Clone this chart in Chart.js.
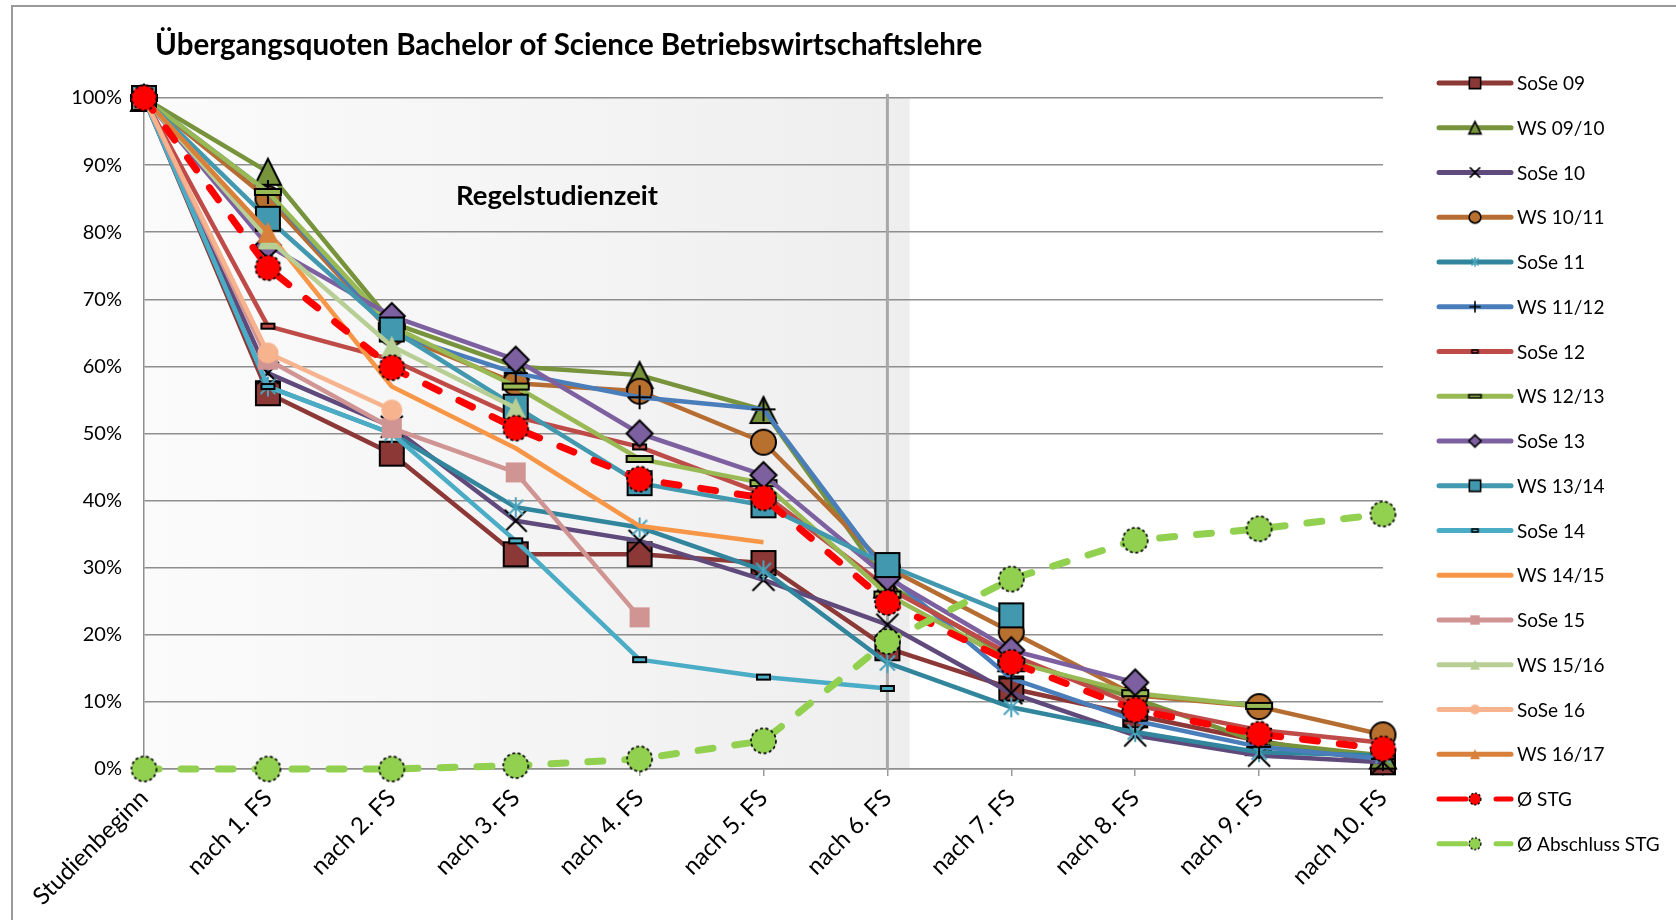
<!DOCTYPE html>
<html><head><meta charset="utf-8">
<script src="https://cdn.jsdelivr.net/npm/chart.js@4/dist/chart.umd.min.js"></script>
<style>html,body{margin:0;padding:0;background:#fff}#wrap{width:1676px;height:920px;position:relative}canvas{display:block}</style>
</head><body><div id="wrap"><canvas id="c" width="1676" height="920"></canvas></div>
<script>
// ---------- DATA ----------
const chartTitle = 'Übergangsquoten Bachelor of Science Betriebswirtschaftslehre';
const regelLabel = 'Regelstudienzeit';
const categories = ['Studienbeginn','nach 1. FS','nach 2. FS','nach 3. FS','nach 4. FS','nach 5. FS','nach 6. FS','nach 7. FS','nach 8. FS','nach 9. FS','nach 10. FS'];
const yTickValues = [0,10,20,30,40,50,60,70,80,90,100];
const seriesNames = ['SoSe 09','WS 09/10','SoSe 10','WS 10/11','SoSe 11','WS 11/12','SoSe 12','WS 12/13','SoSe 13','WS 13/14','SoSe 14','WS 14/15','SoSe 15','WS 15/16','SoSe 16','WS 16/17','Ø STG','Ø Abschluss STG'];
const sose09   = [100, 56, 47, 32, 32, 30.7, 18, 12, 8, 4.2, 1];
const ws0910   = [100, 89, 66.5, 60, 58.7, 53.5, 27.5, 16.5, 10.5, 4, 2];
const sose10   = [100, 59, 51, 37, 34, 28.2, 21.5, 11.3, 5, 2, 1];
const ws1011   = [100, 85, 65, 57.5, 56.3, 48.7, 30, 20.4, 11, 9.3, 5.1];
const sose11   = [100, 57, 50, 39, 36, 29.6, 15.8, 9.2, 5.5, 2.5, 2];
const ws1112   = [100, 86, 65, 59, 55.4, 53.6, 29, 13.5, 7.2, 3.3, 1.5];
const sose12   = [100, 66, 61, 52.5, 48, 41, 27, 17, 9.5, 5.8, 3.9];
const ws1213   = [100, 86, 66, 57, 46.2, 42.6, 26, 16, 11.3, 9.4, null];
const sose13   = [100, 78, 67.5, 61, 50, 43.8, 28.5, 17.7, 12.9, null, null];
const ws1314   = [100, 82, 65.5, 54, 42.6, 39.3, 30.4, 22.9, null, null, null];
const sose14   = [100, 57, 50, 34, 16.3, 13.7, 12, null, null, null, null];
const ws1415   = [100, 80, 57, 47.8, 36.2, 33.8, null, null, null, null, null];
const sose15   = [100, 61, 50.8, 44.2, 22.6, null, null, null, null, null, null];
const ws1516   = [100, 79, 63, 53.8, null, null, null, null, null, null, null];
const sose16   = [100, 62, 53.5, null, null, null, null, null, null, null, null];
const ws1617   = [100, 80, null, null, null, null, null, null, null, null, null];
const avgStg   = [100, 74.7, 59.8, 50.8, 43.2, 40.4, 24.8, 15.9, 8.8, 5.2, 3.0];
const avgAbschluss = [0, 0, 0, 0.5, 1.5, 4.2, 19, 28.3, 34.1, 35.8, 38];
const seriesValues = [sose09, ws0910, sose10, ws1011, sose11, ws1112, sose12, ws1213, sose13, ws1314, sose14, ws1415, sose15, ws1516, sose16, ws1617, avgStg, avgAbschluss];

// ---------- STYLES ----------
const styles = [
  {color:'#8C3836', m:{shape:'rect', size:24, fill:'#8C3836', lw:2}},
  {color:'#77933C', m:{shape:'tri', size:26, fill:'#77933C', lw:2}},
  {color:'#5F4A7B', m:{shape:'x', size:22, lw:2}},
  {color:'#B66D31', m:{shape:'circle', size:25, fill:'#B8702F', lw:2}},
  {color:'#31859C', m:{shape:'star', size:20, lw:2, stroke:'#4AA3BD'}},
  {color:'#4A7EBB', m:{shape:'plus', size:24, lw:2}},
  {color:'#BE4B48', m:{shape:'bar', w:13, h:5, fill:'#BE4B48', lw:2}},
  {color:'#98B954', m:{shape:'bar', w:26, h:6, fill:'#98B954', lw:2}},
  {color:'#7D60A0', m:{shape:'diamond', size:26, fill:'#7D60A0', lw:2}},
  {color:'#4198AF', m:{shape:'rect', size:24, fill:'#4198AF', lw:2}},
  {color:'#4BACC6', m:{shape:'bar', w:13, h:5, fill:'#4BACC6', lw:2}},
  {color:'#F79646', m:null},
  {color:'#D09493', m:{shape:'rect', size:20, fill:'#D09493', lw:0}},
  {color:'#B7CF95', m:{shape:'tri', size:21, fill:'#B7CF95', lw:0}},
  {color:'#F7B38E', m:{shape:'circle', size:21, fill:'#F7B38E', lw:0}},
  {color:'#D9803A', m:{shape:'tri', size:21, fill:'#D9803A', lw:0}},
  {color:'#FF0000', dash:true, m:{shape:'circle', size:25, fill:'#FF0000', lw:1.6, dash:[3,2.5]}},
  {color:'#92D050', dash:true, m:{shape:'circle', size:25, fill:'#92D050', lw:1.6, dash:[3,2.5]}}
];

function makeMarker(o, k) {
  k = k || 1;
  const lw = o.lw || 0;
  const sz = (o.size || 0) * k, bw = (o.w || 0) * k, bh = Math.max((o.h || 0) * k, 3);
  const boxW = o.shape === 'bar' ? bw : sz, boxH = o.shape === 'bar' ? bh : sz;
  const pad = Math.ceil(lw) + 2;
  const c = document.createElement('canvas');
  c.width = Math.ceil(boxW + pad * 2); c.height = Math.ceil(boxH + pad * 2);
  const g = c.getContext('2d');
  const cx = c.width / 2, cy = c.height / 2, r = sz / 2;
  g.lineWidth = lw * (k < 1 ? 0.8 : 1); g.strokeStyle = o.stroke || '#000';
  g.lineJoin = 'miter';
  if (o.dash) g.setLineDash(o.dash.map(d => d * (k < 1 ? 0.7 : 1)));
  g.beginPath();
  switch (o.shape) {
    case 'rect': g.rect(cx - r, cy - r, sz, sz); break;
    case 'bar': g.rect(cx - bw / 2, cy - bh / 2, bw, bh); break;
    case 'circle': g.arc(cx, cy, r, 0, Math.PI * 2); break;
    case 'tri': g.moveTo(cx, cy - r); g.lineTo(cx + r, cy + r); g.lineTo(cx - r, cy + r); g.closePath(); break;
    case 'diamond': g.moveTo(cx, cy - r); g.lineTo(cx + r, cy); g.lineTo(cx, cy + r); g.lineTo(cx - r, cy); g.closePath(); break;
    case 'x': g.moveTo(cx - r, cy - r); g.lineTo(cx + r, cy + r); g.moveTo(cx + r, cy - r); g.lineTo(cx - r, cy + r); break;
    case 'plus': g.moveTo(cx - r, cy); g.lineTo(cx + r, cy); g.moveTo(cx, cy - r); g.lineTo(cx, cy + r); break;
    case 'star': { const a = r * 0.75; g.moveTo(cx - a, cy - a); g.lineTo(cx + a, cy + a); g.moveTo(cx + a, cy - a); g.lineTo(cx - a, cy + a); g.moveTo(cx, cy - r); g.lineTo(cx, cy + r); break; }
  }
  if (o.fill) { g.fillStyle = o.fill; g.fill(); }
  if (lw) g.stroke();
  return c;
}

const N = seriesNames.length;
const datasets = seriesNames.map((name, i) => {
  const st = styles[i];
  return {
    label: name,
    data: seriesValues[i],
    borderColor: st.color,
    backgroundColor: st.color,
    borderWidth: st.dash ? 7 : 4.5,
    borderDash: st.dash ? [15, 22] : [],
    borderCapStyle: st.dash ? 'round' : 'butt',
    borderJoinStyle: 'round',
    pointStyle: st.m ? makeMarker(st.m) : false,
    pointRadius: st.m ? 6 : 0,
    pointHoverRadius: st.m ? 6 : 0,
    fill: false, tension: 0, clip: false,
    order: N - i,
    legendMarker: st.m ? makeMarker(st.m, 0.47) : null,
    legendDash: !!st.dash
  };
});

const decor = {
  id: 'decor',
  beforeDraw(chart) {
    const {ctx, chartArea: a, scales: {x}} = chart;
    ctx.save();
    ctx.fillStyle = '#fff'; ctx.fillRect(0, 0, chart.width, chart.height);
    ctx.strokeStyle = '#9a9a9a'; ctx.lineWidth = 2;
    ctx.strokeRect(12, 6, 3000, 3000);
    const x6 = x.getPixelForValue(6);
    const right = x6 + (x.getPixelForValue(1) - x.getPixelForValue(0)) * 0.18;
    const grd = ctx.createLinearGradient(a.left, 0, right, 0);
    grd.addColorStop(0, '#fbfbfb'); grd.addColorStop(1, '#eeeeee');
    ctx.fillStyle = grd; ctx.fillRect(a.left, a.top, right - a.left, a.bottom - a.top);
    ctx.restore();
  },
  beforeDatasetsDraw(chart) {
    const {ctx, chartArea: a, scales: {x}} = chart;
    ctx.save();
    const x6 = x.getPixelForValue(6);
    ctx.strokeStyle = '#a8a8a8'; ctx.lineWidth = 3;
    ctx.beginPath(); ctx.moveTo(x6, a.top - 4); ctx.lineTo(x6, a.bottom); ctx.stroke();
    ctx.fillStyle = '#000'; ctx.font = 'bold 27.5px Lato'; ctx.textAlign = 'center'; ctx.textBaseline = 'middle';
    ctx.fillText(regelLabel, 557, 196);
    ctx.restore();
  },
  afterDraw(chart) {
    const {ctx} = chart;
    ctx.save();
    ctx.fillStyle = '#000'; ctx.font = 'bold 29.5px Lato'; ctx.textAlign = 'left'; ctx.textBaseline = 'middle';
    ctx.fillText(chartTitle, 155, 45);
    // legend
    const x0 = 1439, x1 = 1511, mx = 1475, tx = 1517, y0 = 83, step = 44.75;
    chart.data.datasets.forEach((ds, i) => {
      const y = y0 + i * step;
      ctx.strokeStyle = ds.borderColor; ctx.lineWidth = 5; ctx.lineCap = 'round';
      ctx.beginPath();
      if (ds.legendDash) { ctx.moveTo(x0, y); ctx.lineTo(1466, y); ctx.moveTo(1496, y); ctx.lineTo(x1, y); }
      else { ctx.moveTo(x0, y); ctx.lineTo(x1, y); }
      ctx.stroke();
      if (ds.legendMarker) { const m = ds.legendMarker; ctx.drawImage(m, mx - m.width / 2, y - m.height / 2); }
      ctx.fillStyle = '#000'; ctx.font = '19px Lato'; ctx.textAlign = 'left'; ctx.textBaseline = 'middle';
      ctx.fillText(ds.label, tx, y + 1);
    });
    ctx.restore();
  }
};

new Chart(document.getElementById('c'), {
  type: 'line',
  data: {labels: categories, datasets},
  options: {
    responsive: false, animation: false, events: [],
    layout: {padding: {top: 98, right: 293, bottom: 0, left: 0}},
    plugins: {legend: {display: false}, tooltip: {enabled: false}, title: {display: false}},
    scales: {
      x: {
        type: 'category', offset: false,
        afterFit: s => { s.height = 151; },
        grid: {display: true, drawOnChartArea: false, drawTicks: true, tickLength: 7, color: '#9a9a9a', lineWidth: 1.5},
        border: {display: true, color: '#8e8e8e', width: 1.5},
        ticks: {autoSkip: false, maxRotation: 45, minRotation: 45, padding: 8, color: '#000', font: {family: 'Lato', size: 24}}
      },
      y: {
        min: 0, max: 100,
        afterFit: s => { s.width = 144; },
        afterBuildTicks: s => { s.ticks = yTickValues.map(v => ({value: v})); },
        grid: {color: '#8e8e8e', lineWidth: 1.4, drawTicks: false},
        border: {display: true, color: '#8e8e8e', width: 1.5},
        ticks: {padding: 22, color: '#000', font: {family: 'Lato', size: 20}, callback: v => v + '%'}
      }
    }
  },
  plugins: [decor]
});
</script></body></html>
